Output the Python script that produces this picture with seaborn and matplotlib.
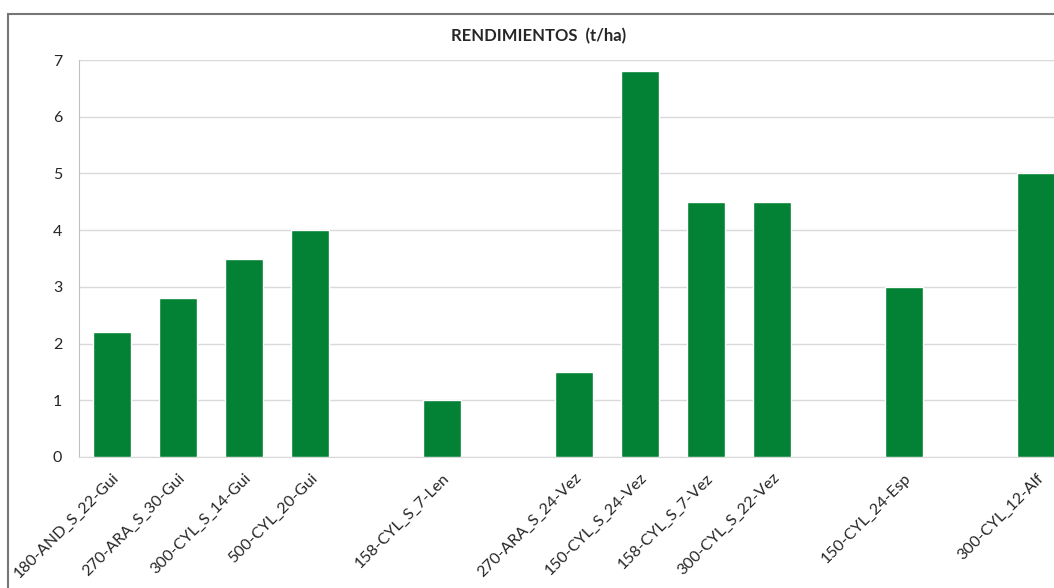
import numpy as np
import pandas as pd
import seaborn as sns
import matplotlib.pyplot as plt
from matplotlib.patches import Rectangle

# empty strings are the blank slots between groups
labels = ["180-AND_S_22-Gui", "270-ARA_S_30-Gui", "300-CYL_S_14-Gui", "500-CYL_20-Gui", "",
          "158-CYL_S_7-Len", "", "270-ARA_S_24-Vez", "150-CYL_S_24-Vez", "158-CYL_S_7-Vez",
          "300-CYL_S_22-Vez", "", "150-CYL_24-Esp", "", "300-CYL_12-Alf"]
yields = [2.2, 2.8, 3.5, 4.0, np.nan, 1.0, np.nan, 1.5, 6.8, 4.5, 4.5, np.nan, 3.0, np.nan, 5.0]

df = pd.DataFrame({"slot": range(len(labels)), "label": labels, "yield": yields})

sns.set_style("white")
plt.rcParams["font.family"] = ["Lato", "DejaVu Sans"]

fig = plt.figure(figsize=(10.54, 5.88), dpi=100)
ax = fig.add_axes([79 / 1054, 1 - 457 / 588, 990 / 1054, 397 / 588])

sns.barplot(data=df, x="slot", y="yield", color="#038235", saturation=1,
            width=0.576, ax=ax, zorder=3)

ax.set_xlim(-0.5, 14.5)
ax.set_ylim(0, 7)
ax.set_yticks(range(0, 8))
ax.yaxis.grid(True, color="#d9d9d9", lw=1, zorder=0)
ax.set_xticks(df["slot"])
ax.set_xticklabels(df["label"], rotation=45, ha="right", va="top", rotation_mode="anchor",
                   fontsize=11.5)
ax.tick_params(axis="y", labelsize=11.5, length=0, pad=12)
ax.tick_params(axis="x", length=0, pad=10)
ax.set_xlabel("")
ax.set_ylabel("")
for s in ["top", "right"]:
    ax.spines[s].set_visible(False)
ax.spines["left"].set_color("#bfbfbf")
ax.spines["bottom"].set_color("#d9d9d9")

fig.text(539 / 1054, 1 - 36 / 588, "RENDIMIENTOS  (t/ha)", ha="center", va="center",
         fontsize=12, fontweight="bold")

fig.patches.append(Rectangle((8 / 1054, -0.1), 1.2, 1.1 - 14 / 588, transform=fig.transFigure,
                             fill=False, edgecolor="#767676", lw=1.5))

fig.savefig("out.png", dpi=100)
